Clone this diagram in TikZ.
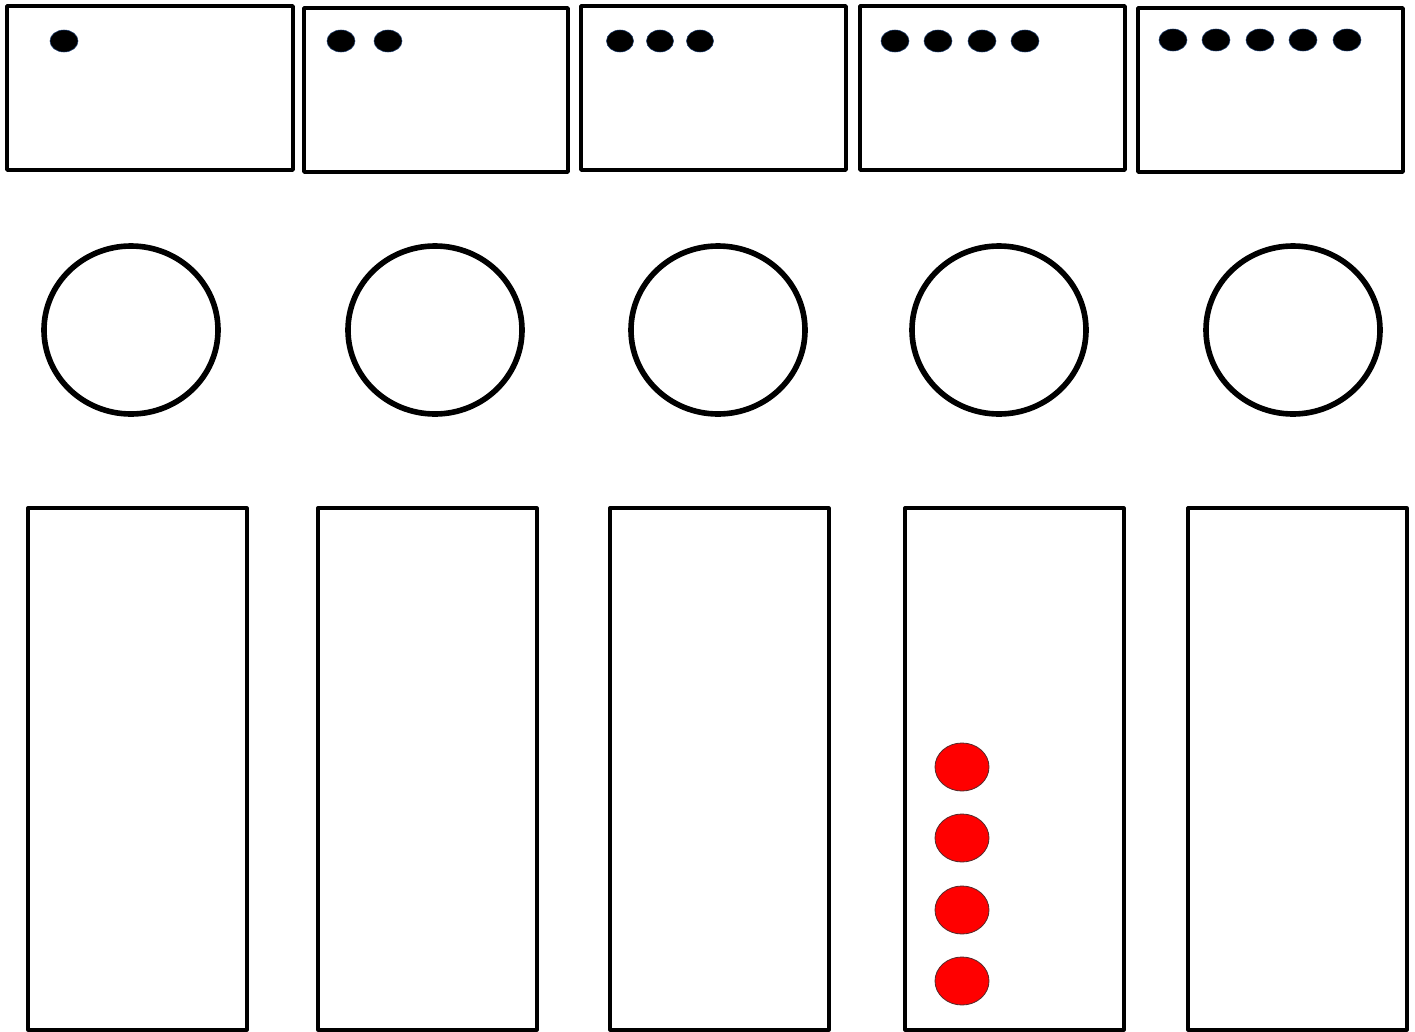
\documentclass[tikz,border=0pt]{standalone}
\usepackage{xcolor}
\definecolor{DotEdge}{HTML}{1A3A6A}
\definecolor{CounterRed}{HTML}{FF0000}
\definecolor{CounterEdge}{HTML}{5A2A2A}
\begin{document}
\begin{tikzpicture}[x=0.025cm,y=-0.025cm, line cap=round, line join=round,
  cardbox/.style={draw=black, line width=2.6pt},
  plate/.style={draw=black, line width=4pt},
  tallbox/.style={draw=black, line width=2.3pt},
  blackdot/.style={fill=black, draw=DotEdge, line width=0.4pt},
  reddot/.style={fill=CounterRed, draw=CounterEdge, line width=0.6pt}]

\useasboundingbox (0,0) rectangle (1415,1032);

% top boxes
\draw[cardbox] (7,6) rectangle (293,170);
\draw[cardbox] (304,8) rectangle (568,172);
\draw[cardbox] (581,6) rectangle (846,170);
\draw[cardbox] (860,6) rectangle (1125,170);
\draw[cardbox] (1138,8) rectangle (1403,172);

% dots in the top boxes
\draw[blackdot] (64,41) ellipse (14 and 11);
\foreach \x in {341,388} {\draw[blackdot] (\x,41) ellipse (14 and 11);}
\foreach \x in {620,660,700} {\draw[blackdot] (\x,41) ellipse (13.5 and 11);}
\foreach \x in {895,938,982,1025} {\draw[blackdot] (\x,41) ellipse (14 and 11);}
\foreach \x in {1173,1216,1260,1303,1347} {\draw[blackdot] (\x,40) ellipse (14 and 11);}

% circles
\draw[plate] (131,330) ellipse (87 and 84);
\draw[plate] (435,330) ellipse (87 and 84);
\draw[plate] (718,330) ellipse (87 and 84);
\draw[plate] (999,330) ellipse (87 and 84);
\draw[plate] (1293,330) ellipse (87 and 84);

% bottom boxes
\draw[tallbox] (28,508) rectangle (247,1030);
\draw[tallbox] (318,508) rectangle (537,1030);
\draw[tallbox] (610,508) rectangle (829,1030);
\draw[tallbox] (905,508) rectangle (1124,1030);
\draw[tallbox] (1188,508) rectangle (1407,1030);

% red counters
\foreach \y in {767,838,910,981} {\draw[reddot] (962,\y) ellipse (27 and 24);}

\end{tikzpicture}
\end{document}
